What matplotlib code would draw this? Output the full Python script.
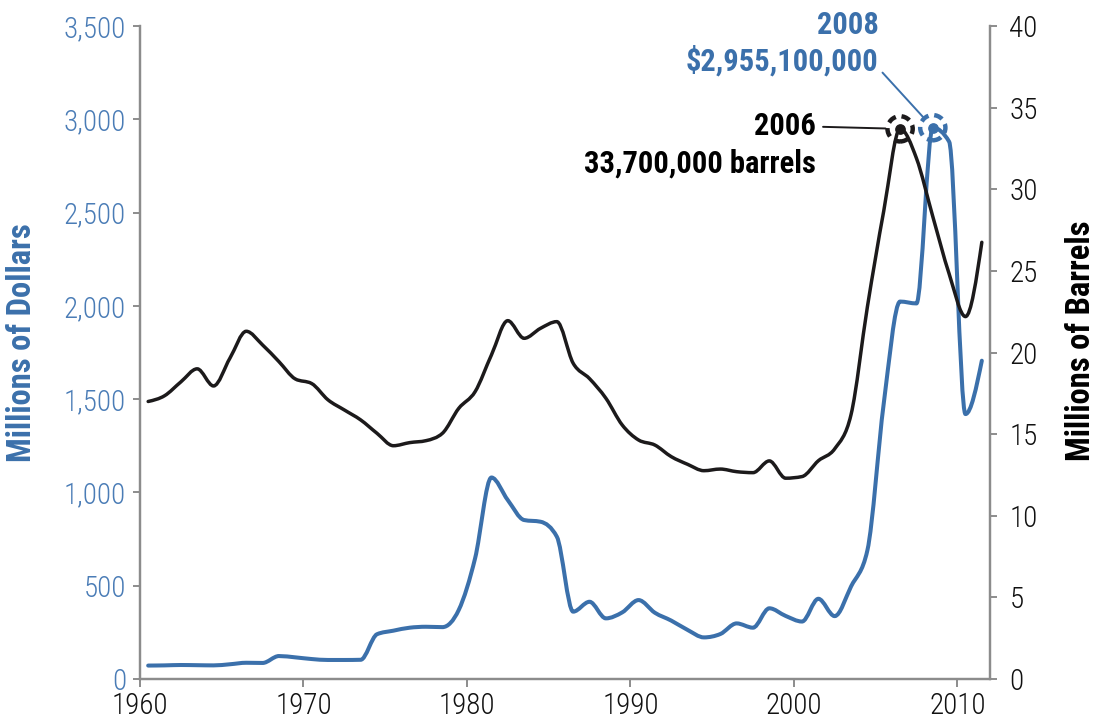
import os
import matplotlib
matplotlib.use('Agg')
import matplotlib.pyplot as plt
from matplotlib import font_manager
from matplotlib.patches import PathPatch
from matplotlib.path import Path
from matplotlib.ticker import FuncFormatter, MultipleLocator
from matplotlib.transforms import ScaledTranslation

# Annual series, 1960-2011
years = list(range(1960, 2012))

# value of imports, millions of dollars
dollars = [72, 73, 75, 74, 73, 79, 87, 86, 123, 116,
           107, 102, 102, 103, 240, 259, 275, 280, 278, 370,
           647, 1080, 959, 852, 843, 763, 361, 414, 325, 357,
           423, 355, 313, 263, 223, 241, 298, 275, 379, 338,
           308, 430, 337, 496, 690, 1477, 2023, 2013, 2955, 2880,
           1420, 1706]

# volume, millions of barrels
barrels = [17.0, 17.35, 18.2, 19.0, 17.95, 19.65, 21.3, 20.46, 19.44, 18.38,
           18.1, 17.1, 16.48, 15.87, 15.05, 14.29, 14.48, 14.6, 15.05, 16.58,
           17.6, 19.85, 21.95, 20.87, 21.48, 21.89, 19.34, 18.4, 17.2, 15.56,
           14.64, 14.33, 13.62, 13.15, 12.76, 12.86, 12.7, 12.64, 13.36, 12.3,
           12.4, 13.37, 14.1, 16.2, 22.8, 28.67, 33.7, 31.9, 28.33, 24.82,
           22.2, 26.75]

BLUE = '#3b70ab'
BLUE_TXT = '#4a7cb6'
BLACK = '#1c1a1b'
GREY = '#8c8c8c'

# look for a narrow face, fall back to DejaVu
files = {os.path.basename(f.fname).lower(): f.fname for f in font_manager.fontManager.ttflist}


def pick(names):
    for n in names:
        if n.lower() in files:
            return font_manager.FontProperties(fname=files[n.lower()])
    return None


thin = pick(['RobotoCondensed-Light.ttf', 'RobotoCondensed-Regular.ttf',
             'LiberationSansNarrow-Regular.ttf', 'DejaVuSansCondensed.ttf'])
heavy = pick(['RobotoCondensed-Bold.ttf', 'LiberationSansNarrow-Bold.ttf',
              'DejaVuSansCondensed-Bold.ttf'])
if thin is None:
    thin = font_manager.FontProperties(family='DejaVu Sans', stretch='condensed')
if heavy is None:
    heavy = font_manager.FontProperties(family='DejaVu Sans', stretch='condensed', weight='bold')


def fp(base, size):
    p = base.copy()
    p.set_size(size)
    return p


def sign(v):
    return (v > 0) - (v < 0)


def smooth_path(xs, ys):
    # monotone cubic through every point, no overshoot at the peaks
    n = len(xs)
    h = [xs[i + 1] - xs[i] for i in range(n - 1)]
    s = [(ys[i + 1] - ys[i]) / h[i] for i in range(n - 1)]
    t = [0.0] * n
    for i in range(1, n - 1):
        p = (s[i - 1] * h[i] + s[i] * h[i - 1]) / (h[i - 1] + h[i])
        t[i] = (sign(s[i - 1]) + sign(s[i])) * min(abs(s[i - 1]), abs(s[i]), 0.5 * abs(p))
    t[0] = (3 * s[0] - t[1]) / 2
    t[-1] = (3 * s[-1] - t[-2]) / 2
    verts = [(xs[0], ys[0])]
    codes = [Path.MOVETO]
    for i in range(n - 1):
        d = h[i] / 3
        verts += [(xs[i] + d, ys[i] + d * t[i]),
                  (xs[i + 1] - d, ys[i + 1] - d * t[i + 1]),
                  (xs[i + 1], ys[i + 1])]
        codes += [Path.CURVE4] * 3
    return Path(verts, codes)


fig = plt.figure(figsize=(10.98, 7.25), dpi=100)
ax = fig.add_axes([140 / 1098, 46 / 725, 850 / 1098, 653 / 725])
ax2 = ax.twinx()

x = [y + 0.5 for y in years]
ax.add_patch(PathPatch(smooth_path(x, dollars), fill=False, edgecolor=BLUE, lw=2.9,
                       capstyle='round', joinstyle='round'))
ax2.add_patch(PathPatch(smooth_path(x, barrels), fill=False, edgecolor=BLACK, lw=2.5,
                        capstyle='round', joinstyle='round'))

ax.set_xlim(1960, 2012)
ax.set_ylim(0, 3500)
ax2.set_ylim(0, 40)
ax.xaxis.set_major_locator(MultipleLocator(10))
ax.yaxis.set_major_locator(MultipleLocator(500))
ax2.yaxis.set_major_locator(MultipleLocator(5))
ax.yaxis.set_major_formatter(FuncFormatter(lambda v, p: f'{int(v):,}'))

for a in (ax, ax2):
    a.spines['top'].set_visible(False)
    for s in ('left', 'right', 'bottom'):
        a.spines[s].set_color(GREY)
        a.spines[s].set_linewidth(1.6)
ax.tick_params(axis='y', colors=GREY, labelcolor=BLUE_TXT, length=5, width=1.4, pad=5)
ax.tick_params(axis='x', colors=GREY, labelcolor='#111111', length=6, width=1.4, pad=3)
ax2.tick_params(axis='y', colors=GREY, labelcolor='#111111', length=5, width=1.4, pad=9)
for lab in ax.get_xticklabels() + ax.get_yticklabels() + ax2.get_yticklabels():
    lab.set_fontproperties(fp(thin, 21))

fig.text(22 / 1098, 1 - 343 / 725, 'Millions of Dollars', rotation=90,
         color=BLUE, fontproperties=fp(heavy, 23.5), ha='center', va='center')
fig.text(1081 / 1098, 1 - 341 / 725, 'Millions of Barrels', rotation=90,
         color='#000000', fontproperties=fp(heavy, 23.5), ha='center', va='center')

# peak markers
pk_d = dollars.index(max(dollars))
pk_b = barrels.index(max(barrels))
ax.scatter([x[pk_d]], [dollars[pk_d]], s=330, facecolors='none', edgecolors=BLUE,
           linewidths=3.2, linestyle=(0, (2.0, 1.3)), zorder=5, clip_on=False)
ax.scatter([x[pk_d]], [dollars[pk_d]], s=45, color=BLUE, zorder=6, clip_on=False)
ax2.scatter([x[pk_b]], [barrels[pk_b]], s=330, facecolors='none', edgecolors=BLACK,
            linewidths=3.2, linestyle=(0, (2.0, 1.3)), zorder=5, clip_on=False)
ax2.scatter([x[pk_b]], [barrels[pk_b]], s=45, color=BLACK, zorder=6, clip_on=False)

# callouts
ax2.annotate(f'{years[pk_b]}', xy=(x[pk_b], barrels[pk_b]), xytext=(-84, 3),
             textcoords='offset pixels', ha='right', va='center',
             fontproperties=fp(heavy, 22), color='#000000',
             arrowprops=dict(arrowstyle='-', color=BLACK, lw=1.4,
                             shrinkA=3, shrinkB=10.5))
ax2.text(x[pk_b], barrels[pk_b], f'{barrels[pk_b] * 1e6:,.0f} barrels',
         ha='right', va='center', fontproperties=fp(heavy, 22), color='#000000',
         transform=ax2.transData + ScaledTranslation(-84 / 100, -35 / 100, fig.dpi_scale_trans))

ax.text(x[pk_d], dollars[pk_d], f'{years[pk_d]}', ha='right', va='center',
        fontproperties=fp(heavy, 22), color=BLUE,
        transform=ax.transData + ScaledTranslation(-54 / 100, 103 / 100, fig.dpi_scale_trans))
ax.annotate('$2,955,100,000', xy=(x[pk_d], dollars[pk_d]), xytext=(-54, 67),
            textcoords='offset pixels', ha='right', va='center',
            fontproperties=fp(heavy, 22), color=BLUE,
            arrowprops=dict(arrowstyle='-', color=BLUE, lw=1.4, relpos=(1.0, 0.25),
                            shrinkA=1, shrinkB=10.5))

fig.savefig('out.png', dpi=100)
